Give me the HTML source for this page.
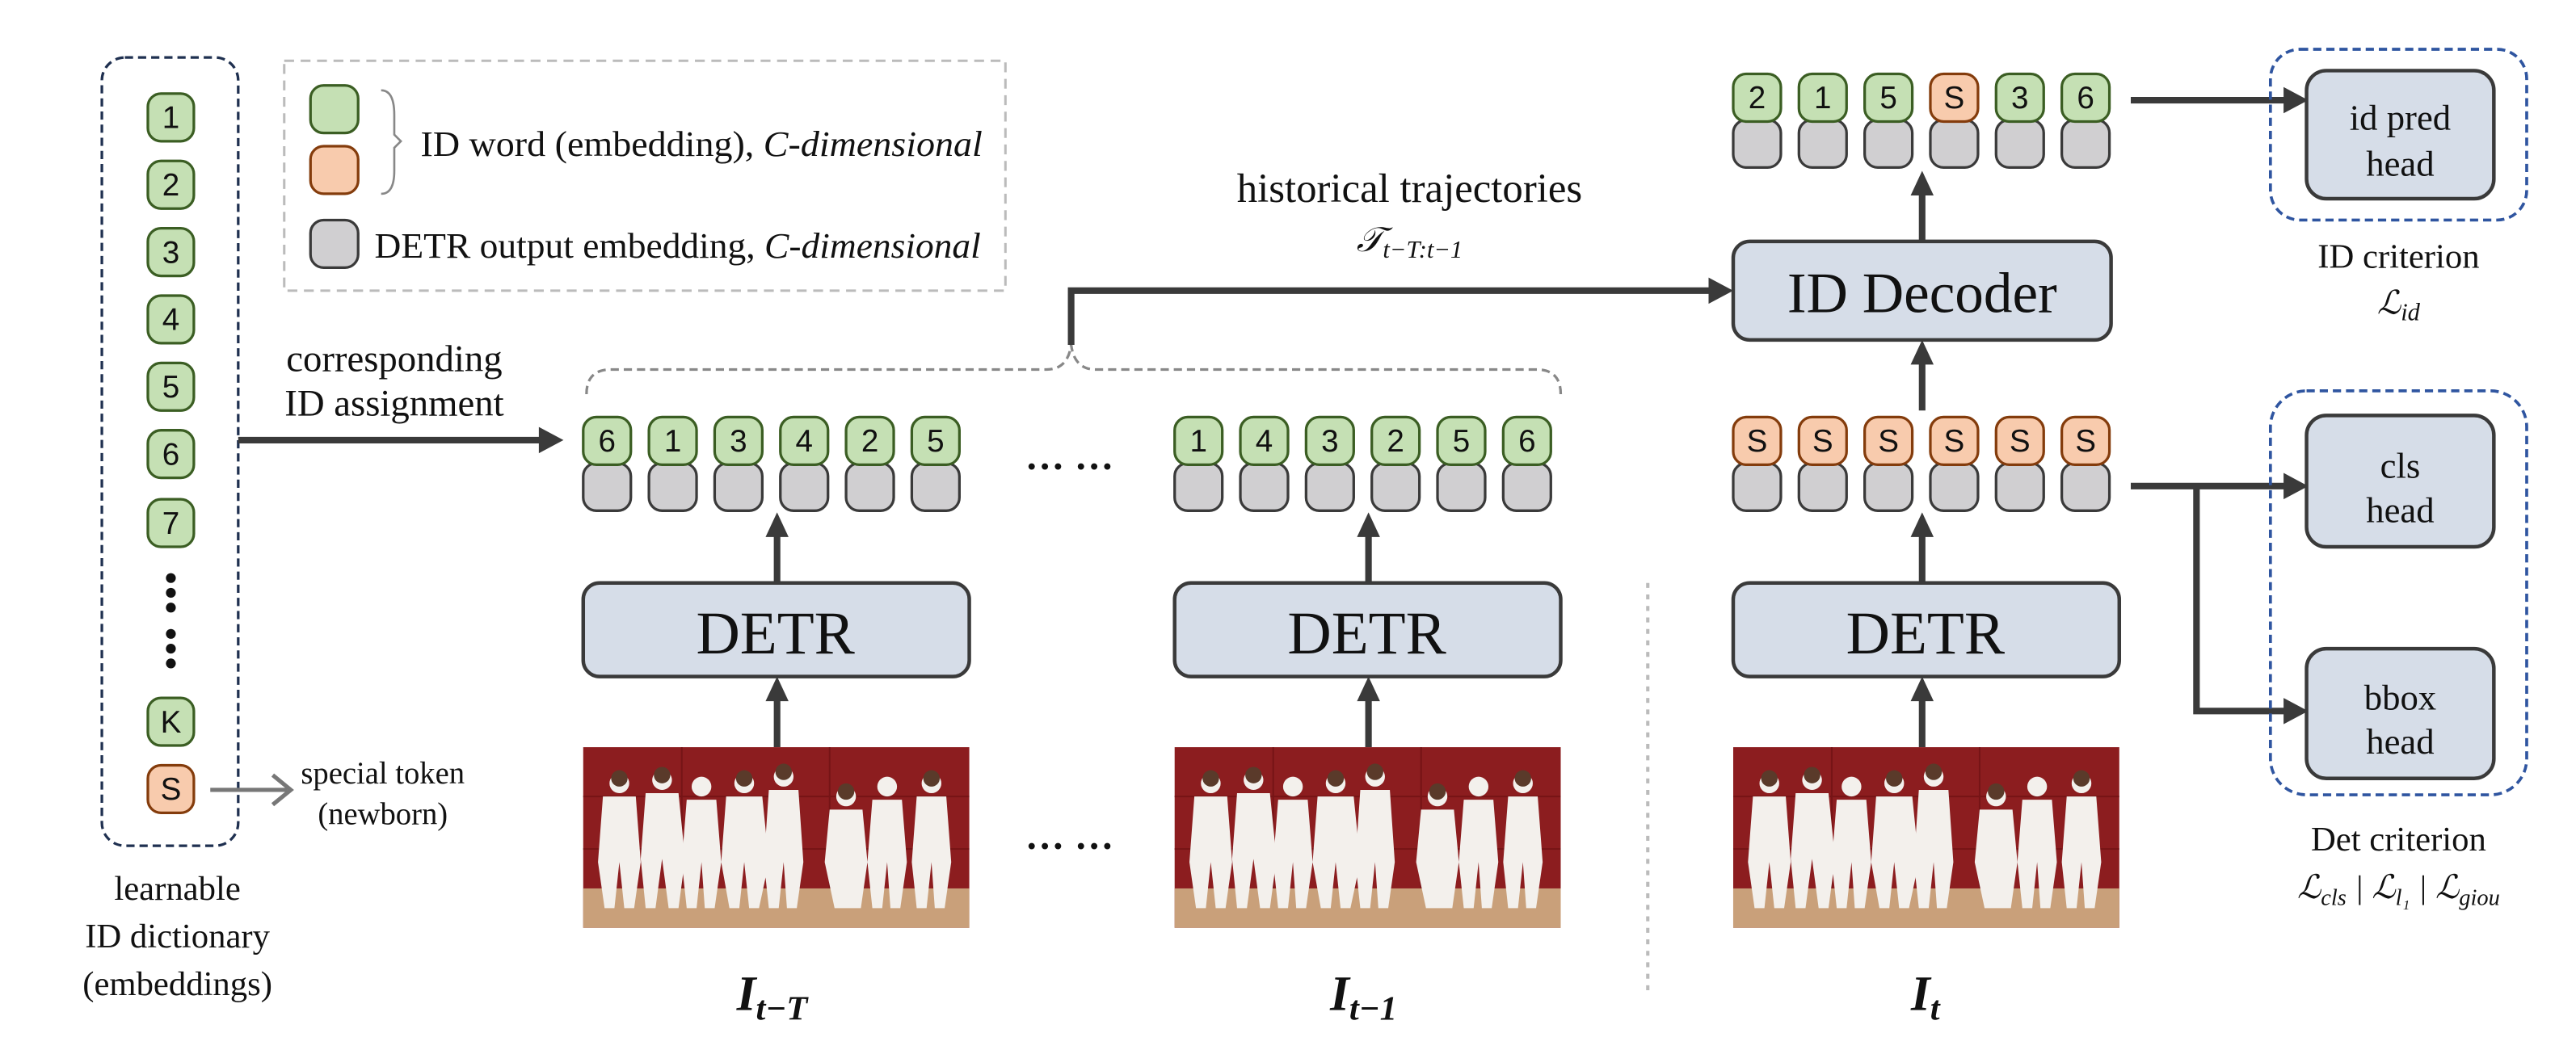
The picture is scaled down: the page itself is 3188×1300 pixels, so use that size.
<!DOCTYPE html>
<html><head><meta charset="utf-8"><style>
html,body{margin:0;padding:0;background:#fff;width:3188px;height:1300px;overflow:hidden}
svg{display:block}
text{font-family:"Liberation Serif",serif;fill:#111}
.tk{font-family:"Liberation Sans",sans-serif;font-size:19px;text-anchor:middle}
.g{fill:#c5e0b4;stroke:#3b5e23;stroke-width:1.6}
.o{fill:#f8cbad;stroke:#843c0c;stroke-width:1.6}
.y{fill:#d0cfd1;stroke:#3a3a3a;stroke-width:1.6}
.box{fill:#d6dde8;stroke:#3a3a3a;stroke-width:2.2}
.ar{stroke:#3a3a3a;stroke-width:4;fill:none}
.ah{fill:#3a3a3a}
</style></head><body>
<svg width="3188" height="1300" viewBox="0 0 1568 639.4" xmlns="http://www.w3.org/2000/svg">
<defs>
<g id="img">
<rect x="0" y="0" width="235" height="110" fill="#8c1d1f"/>
<line x1="0" y1="30" x2="235" y2="30" stroke="#761416" stroke-width="1"/>
<line x1="0" y1="62" x2="235" y2="62" stroke="#761416" stroke-width="1"/>
<line x1="60" y1="0" x2="60" y2="88" stroke="#761416" stroke-width="1"/>
<line x1="150" y1="0" x2="150" y2="88" stroke="#761416" stroke-width="1"/>
<rect x="0" y="86" width="235" height="24" fill="#c9a07a"/>
<g fill="#f3f0ec">
<circle cx="22" cy="22" r="6"/><path d="M12,30 h20 l3,40 l-4,28 h-6 l-3,-28 l-3,28 h-6 l-4,-28z"/>
<circle cx="48" cy="20" r="6"/><path d="M38,28 h20 l4,40 l-4,30 h-6 l-4,-30 l-4,30 h-6 l-3,-30z"/>
<circle cx="72" cy="24" r="6"/><path d="M63,32 h18 l3,38 l-4,28 h-6 l-2,-28 l-3,28 h-6 l-3,-28z"/>
<circle cx="98" cy="22" r="6"/><path d="M87,30 h22 l4,40 l-6,28 h-6 l-3,-28 l-3,28 h-6 l-5,-28z"/>
<circle cx="122" cy="18" r="6"/><path d="M113,26 h18 l3,44 l-4,28 h-6 l-2,-28 l-3,28 h-6 l-3,-28z"/>
<circle cx="160" cy="30" r="6"/><path d="M150,38 h20 l3,32 l-4,28 h-16 l-6,-28z"/>
<circle cx="185" cy="24" r="6"/><path d="M176,32 h18 l3,38 l-4,28 h-6 l-2,-28 l-3,28 h-6 l-3,-28z"/>
<circle cx="212" cy="22" r="6"/><path d="M203,30 h18 l3,40 l-4,28 h-6 l-2,-28 l-3,28 h-6 l-3,-28z"/>
</g>
<g fill="#5a3a2a"><circle cx="22" cy="19" r="5"/><circle cx="48" cy="17" r="5"/><circle cx="98" cy="19" r="5"/><circle cx="122" cy="15" r="5"/><circle cx="160" cy="27" r="5"/><circle cx="212" cy="19" r="5"/></g>
</g>
</defs>

<!-- dictionary -->
<rect x="62" y="35" width="83" height="480" rx="14" fill="none" stroke="#1f3050" stroke-width="1.6" stroke-dasharray="5,3"/>
<rect class="g" x="90" y="57" width="28" height="29" rx="8"/><text class="tk" x="104" y="78">1</text>
<rect class="g" x="90" y="98" width="28" height="29" rx="8"/><text class="tk" x="104" y="119">2</text>
<rect class="g" x="90" y="139" width="28" height="29" rx="8"/><text class="tk" x="104" y="160">3</text>
<rect class="g" x="90" y="180" width="28" height="29" rx="8"/><text class="tk" x="104" y="201">4</text>
<rect class="g" x="90" y="221" width="28" height="29" rx="8"/><text class="tk" x="104" y="242">5</text>
<rect class="g" x="90" y="262" width="28" height="29" rx="8"/><text class="tk" x="104" y="283">6</text>
<rect class="g" x="90" y="304" width="28" height="29" rx="8"/><text class="tk" x="104" y="325">7</text>
<g fill="#111"><circle cx="104" cy="352" r="3"/><circle cx="104" cy="361" r="3"/><circle cx="104" cy="370" r="3"/><circle cx="104" cy="386" r="3"/><circle cx="104" cy="395" r="3"/><circle cx="104" cy="404" r="3"/></g>
<rect class="g" x="90" y="425" width="28" height="29" rx="8"/><text class="tk" x="104" y="446">K</text>
<rect class="o" x="90" y="466" width="28" height="29" rx="8"/><text class="tk" x="104" y="487">S</text>
<line x1="128" y1="481" x2="175" y2="481" stroke="#777" stroke-width="2.5"/>
<polyline points="166,472 177,481 166,490" fill="none" stroke="#777" stroke-width="2.5"/>
<text x="233" y="477" font-size="19" text-anchor="middle">special token</text>
<text x="233" y="502" font-size="19" text-anchor="middle">(newborn)</text>
<text x="108" y="548" font-size="21" text-anchor="middle">learnable</text>
<text x="108" y="577" font-size="21" text-anchor="middle">ID dictionary</text>
<text x="108" y="606" font-size="21" text-anchor="middle">(embeddings)</text>

<!-- legend -->
<rect x="173" y="37" width="439" height="140" fill="none" stroke="#bbb" stroke-width="1.5" stroke-dasharray="6,4"/>
<rect class="g" x="189" y="52" width="29" height="29" rx="8"/>
<rect class="o" x="189" y="89" width="29" height="29" rx="8"/>
<path d="M232,55 Q240,55 240,70 L240,82 L244,86 L240,90 L240,104 Q240,118 232,118" fill="none" stroke="#888" stroke-width="1.3"/>
<text x="256" y="95" font-size="22" textLength="342" lengthAdjust="spacingAndGlyphs">ID word (embedding), <tspan font-style="italic">C-dimensional</tspan></text>
<rect class="y" x="189" y="134" width="29" height="29" rx="8"/>
<text x="228" y="157" font-size="22" textLength="369" lengthAdjust="spacingAndGlyphs">DETR output embedding, <tspan font-style="italic">C-dimensional</tspan></text>

<!-- corresponding -->
<text x="240" y="226" font-size="23" text-anchor="middle">corresponding</text>
<text x="240" y="253" font-size="23" text-anchor="middle">ID assignment</text>
<line class="ar" x1="145" y1="268" x2="330" y2="268"/>
<polygon class="ah" points="328,260 343,268 328,276"/>

<!-- group 1 -->
<g>
<rect class="y" x="355" y="282" width="29" height="29" rx="8"/><rect class="y" x="395" y="282" width="29" height="29" rx="8"/><rect class="y" x="435" y="282" width="29" height="29" rx="8"/><rect class="y" x="475" y="282" width="29" height="29" rx="8"/><rect class="y" x="515" y="282" width="29" height="29" rx="8"/><rect class="y" x="555" y="282" width="29" height="29" rx="8"/>
<rect class="g" x="355" y="254" width="29" height="29" rx="8"/><text class="tk" x="369.5" y="275">6</text>
<rect class="g" x="395" y="254" width="29" height="29" rx="8"/><text class="tk" x="409.5" y="275">1</text>
<rect class="g" x="435" y="254" width="29" height="29" rx="8"/><text class="tk" x="449.5" y="275">3</text>
<rect class="g" x="475" y="254" width="29" height="29" rx="8"/><text class="tk" x="489.5" y="275">4</text>
<rect class="g" x="515" y="254" width="29" height="29" rx="8"/><text class="tk" x="529.5" y="275">2</text>
<rect class="g" x="555" y="254" width="29" height="29" rx="8"/><text class="tk" x="569.5" y="275">5</text>
</g>
<!-- group 2 -->
<g>
<rect class="y" x="715" y="282" width="29" height="29" rx="8"/><rect class="y" x="755" y="282" width="29" height="29" rx="8"/><rect class="y" x="795" y="282" width="29" height="29" rx="8"/><rect class="y" x="835" y="282" width="29" height="29" rx="8"/><rect class="y" x="875" y="282" width="29" height="29" rx="8"/><rect class="y" x="915" y="282" width="29" height="29" rx="8"/>
<rect class="g" x="715" y="254" width="29" height="29" rx="8"/><text class="tk" x="729.5" y="275">1</text>
<rect class="g" x="755" y="254" width="29" height="29" rx="8"/><text class="tk" x="769.5" y="275">4</text>
<rect class="g" x="795" y="254" width="29" height="29" rx="8"/><text class="tk" x="809.5" y="275">3</text>
<rect class="g" x="835" y="254" width="29" height="29" rx="8"/><text class="tk" x="849.5" y="275">2</text>
<rect class="g" x="875" y="254" width="29" height="29" rx="8"/><text class="tk" x="889.5" y="275">5</text>
<rect class="g" x="915" y="254" width="29" height="29" rx="8"/><text class="tk" x="929.5" y="275">6</text>
</g>
<text x="651" y="292" font-size="24" font-weight="bold" text-anchor="middle">··· ···</text>
<text x="651" y="523" font-size="24" font-weight="bold" text-anchor="middle">··· ···</text>

<!-- brace -->
<path d="M357,240 Q357,225 372,225 L637,225 Q650,225 652,210 Q654,225 667,225 L935,225 Q950,225 950,240" fill="none" stroke="#888" stroke-width="1.6" stroke-dasharray="5,3"/>
<polyline class="ar" points="652,210 652,177 1042,177"/>
<polygon class="ah" points="1040,169 1055,177 1040,185"/>
<text x="858" y="123" font-size="25" text-anchor="middle">historical trajectories</text>
<text x="858" y="153" font-size="21" text-anchor="middle" font-style="italic">𝒯<tspan font-size="15" dy="4">t−T:t−1</tspan></text>

<!-- DETRs -->
<line class="ar" x1="473" y1="355" x2="473" y2="325"/><polygon class="ah" points="466,327 473,312 480,327"/>
<line class="ar" x1="833" y1="355" x2="833" y2="325"/><polygon class="ah" points="826,327 833,312 840,327"/>
<line class="ar" x1="1170" y1="355" x2="1170" y2="325"/><polygon class="ah" points="1163,327 1170,312 1177,327"/>
<line class="ar" x1="473" y1="455" x2="473" y2="425"/><polygon class="ah" points="466,427 473,412 480,427"/>
<line class="ar" x1="833" y1="455" x2="833" y2="425"/><polygon class="ah" points="826,427 833,412 840,427"/>
<line class="ar" x1="1170" y1="455" x2="1170" y2="425"/><polygon class="ah" points="1163,427 1170,412 1177,427"/>
<rect class="box" x="355" y="355" width="235" height="57" rx="10"/><text x="472" y="398" font-size="37" text-anchor="middle">DETR</text>
<rect class="box" x="715" y="355" width="235" height="57" rx="10"/><text x="832" y="398" font-size="37" text-anchor="middle">DETR</text>
<rect class="box" x="1055" y="355" width="235" height="57" rx="10"/><text x="1172" y="398" font-size="37" text-anchor="middle">DETR</text>

<use href="#img" x="355" y="455"/>
<use href="#img" x="715" y="455"/>
<use href="#img" x="1055" y="455"/>

<text x="470" y="615" font-size="30" font-weight="bold" font-style="italic" text-anchor="middle">I<tspan font-size="21" dy="6">t−T</tspan></text>
<text x="830" y="615" font-size="30" font-weight="bold" font-style="italic" text-anchor="middle">I<tspan font-size="21" dy="6">t−1</tspan></text>
<text x="1172" y="615" font-size="30" font-weight="bold" font-style="italic" text-anchor="middle">I<tspan font-size="21" dy="6">t</tspan></text>

<line x1="1003" y1="355" x2="1003" y2="605" stroke="#bbb" stroke-width="2" stroke-dasharray="3,4"/>

<!-- current S tokens -->
<g>
<rect class="y" x="1055" y="282" width="29" height="29" rx="8"/><rect class="y" x="1095" y="282" width="29" height="29" rx="8"/><rect class="y" x="1135" y="282" width="29" height="29" rx="8"/><rect class="y" x="1175" y="282" width="29" height="29" rx="8"/><rect class="y" x="1215" y="282" width="29" height="29" rx="8"/><rect class="y" x="1255" y="282" width="29" height="29" rx="8"/>
<rect class="o" x="1055" y="254" width="29" height="29" rx="8"/><text class="tk" x="1069.5" y="275">S</text>
<rect class="o" x="1095" y="254" width="29" height="29" rx="8"/><text class="tk" x="1109.5" y="275">S</text>
<rect class="o" x="1135" y="254" width="29" height="29" rx="8"/><text class="tk" x="1149.5" y="275">S</text>
<rect class="o" x="1175" y="254" width="29" height="29" rx="8"/><text class="tk" x="1189.5" y="275">S</text>
<rect class="o" x="1215" y="254" width="29" height="29" rx="8"/><text class="tk" x="1229.5" y="275">S</text>
<rect class="o" x="1255" y="254" width="29" height="29" rx="8"/><text class="tk" x="1269.5" y="275">S</text>
</g>
<line class="ar" x1="1170" y1="250" x2="1170" y2="220"/><polygon class="ah" points="1163,222 1170,207 1177,222"/>
<rect class="box" x="1055" y="147" width="230" height="60" rx="10"/><text x="1170" y="190" font-size="35" text-anchor="middle">ID Decoder</text>
<line class="ar" x1="1170" y1="147" x2="1170" y2="117"/><polygon class="ah" points="1163,119 1170,104 1177,119"/>
<!-- top tokens -->
<g>
<rect class="y" x="1055" y="73" width="29" height="29" rx="8"/><rect class="y" x="1095" y="73" width="29" height="29" rx="8"/><rect class="y" x="1135" y="73" width="29" height="29" rx="8"/><rect class="y" x="1175" y="73" width="29" height="29" rx="8"/><rect class="y" x="1215" y="73" width="29" height="29" rx="8"/><rect class="y" x="1255" y="73" width="29" height="29" rx="8"/>
<rect class="g" x="1055" y="45" width="29" height="29" rx="8"/><text class="tk" x="1069.5" y="66">2</text>
<rect class="g" x="1095" y="45" width="29" height="29" rx="8"/><text class="tk" x="1109.5" y="66">1</text>
<rect class="g" x="1135" y="45" width="29" height="29" rx="8"/><text class="tk" x="1149.5" y="66">5</text>
<rect class="o" x="1175" y="45" width="29" height="29" rx="8"/><text class="tk" x="1189.5" y="66">S</text>
<rect class="g" x="1215" y="45" width="29" height="29" rx="8"/><text class="tk" x="1229.5" y="66">3</text>
<rect class="g" x="1255" y="45" width="29" height="29" rx="8"/><text class="tk" x="1269.5" y="66">6</text>
</g>

<!-- heads -->
<line class="ar" x1="1297" y1="61" x2="1392" y2="61"/><polygon class="ah" points="1390,53 1405,61 1390,69"/>
<rect x="1382" y="30" width="156" height="104" rx="18" fill="none" stroke="#2f55a0" stroke-width="1.8" stroke-dasharray="5,3"/>
<rect class="box" x="1404" y="43" width="114" height="78" rx="12"/>
<text x="1461" y="79" font-size="22" text-anchor="middle">id pred</text>
<text x="1461" y="107" font-size="22" text-anchor="middle">head</text>
<text x="1460" y="163" font-size="21" text-anchor="middle">ID criterion</text>
<text x="1460" y="191" font-size="20" text-anchor="middle" font-style="italic">ℒ<tspan font-size="15" dy="4">id</tspan></text>

<polyline class="ar" points="1297,296 1392,296"/><polygon class="ah" points="1390,288 1405,296 1390,304"/>
<polyline class="ar" points="1337,296 1337,433 1392,433"/><polygon class="ah" points="1390,425 1405,433 1390,441"/>
<rect x="1382" y="238" width="156" height="246" rx="22" fill="none" stroke="#2f55a0" stroke-width="1.8" stroke-dasharray="5,3"/>
<rect class="box" x="1404" y="253" width="114" height="80" rx="12"/>
<text x="1461" y="291" font-size="22" text-anchor="middle">cls</text>
<text x="1461" y="318" font-size="22" text-anchor="middle">head</text>
<rect class="box" x="1404" y="395" width="114" height="79" rx="12"/>
<text x="1461" y="432" font-size="22" text-anchor="middle">bbox</text>
<text x="1461" y="459" font-size="22" text-anchor="middle">head</text>
<text x="1460" y="518" font-size="21" text-anchor="middle">Det criterion</text>
<text x="1460" y="547" font-size="20" text-anchor="middle" font-style="italic">ℒ<tspan font-size="14" dy="4">cls</tspan><tspan dy="-4"> | ℒ</tspan><tspan font-size="14" dy="4">l₁</tspan><tspan dy="-4"> | ℒ</tspan><tspan font-size="14" dy="4">giou</tspan></text>
</svg>
</body></html>
